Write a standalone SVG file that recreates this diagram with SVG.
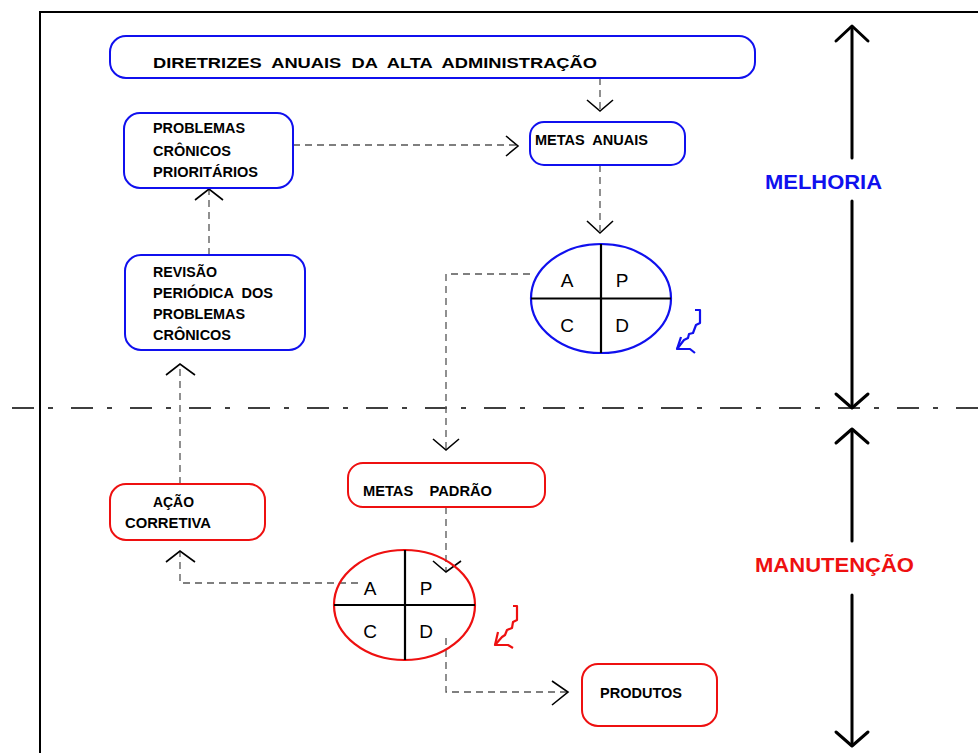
<svg xmlns="http://www.w3.org/2000/svg" width="978" height="753" viewBox="0 0 978 753">
  <style>
    .bg { fill: #ffffff; }
    .frame { fill: none; stroke: #000; stroke-width: 2; }
    .divider { fill: none; stroke: #000; stroke-width: 1.3; stroke-dasharray: 22 14 5 18; }
    .boxB { fill: #fff; stroke: #1010ee; stroke-width: 2; }
    .boxR { fill: #fff; stroke: #ee1010; stroke-width: 2; }
    .lbl { font-family: "Liberation Sans", Arial, sans-serif; font-weight: bold; font-size: 14px; fill: #000; white-space: pre; }
    .big { font-family: "Liberation Sans", Arial, sans-serif; font-weight: bold; font-size: 20px; }
    .q { font-family: "Liberation Sans", Arial, sans-serif; font-size: 19px; fill: #000; text-anchor: middle; }
    .cross { stroke: #000; stroke-width: 2.2; fill: none; }
    .dash { fill: none; stroke: #555; stroke-width: 1.3; stroke-dasharray: 7 5; }
    .head { fill: none; stroke: #000; stroke-width: 1.6; }
    .axis { fill: none; stroke: #000; stroke-width: 3; stroke-linecap: round; stroke-linejoin: round; }
    .curlB { fill: none; stroke: #1010ee; stroke-width: 2.2; stroke-linejoin: round; }
    .curlR { fill: none; stroke: #ee1010; stroke-width: 2.2; stroke-linejoin: round; }
  </style>

  <rect class="bg" x="0" y="0" width="978" height="753"/>

  <!-- page frame -->
  <path class="frame" d="M40 753 V12 H978"/>

  <!-- boundary between improvement and maintenance -->
  <line class="divider" x1="12" y1="408" x2="978" y2="408"/>

  <!-- side axes -->
  <g id="axis-melhoria">
    <path class="axis" d="M852 27 V158 M852 201 V407"/>
    <path class="axis" d="M836 41 L852 26 L868 41"/>
    <path class="axis" d="M836 394 L852 408 L868 394"/>
    <text class="big" x="765" y="189" fill="#1010ee" textLength="117" lengthAdjust="spacingAndGlyphs">MELHORIA</text>
  </g>
  <g id="axis-manutencao">
    <path class="axis" d="M852 430 V541 M852 595 V745"/>
    <path class="axis" d="M836 443 L852 429 L868 443"/>
    <path class="axis" d="M836 732 L852 746 L868 732"/>
    <text class="big" x="755" y="572" fill="#ee1010" textLength="159" lengthAdjust="spacingAndGlyphs">MANUTENÇÃO</text>
  </g>

  <!-- connectors -->
  <g id="connectors">
    <path class="dash" d="M600 78 V110"/>
    <path class="head" d="M587 100 L600 111 L613 100"/>

    <path class="dash" d="M293 145 H517"/>
    <path class="head" d="M506 136 L518 146 L506 156"/>

    <path class="dash" d="M600 165 V231"/>
    <path class="head" d="M587 221 L600 233 L613 221"/>

    <path class="dash" d="M209 255 V190"/>
    <path class="head" d="M195 200 L209 189 L223 200"/>

    <path class="dash" d="M530 274 H446 V449"/>
    <path class="head" d="M433 439 L446 450 L459 439"/>

    <path class="dash" d="M446 507 V571"/>
    <path class="head" d="M433 561 L446 572 L461 561"/>

    <path class="dash" d="M180 484 V365"/>
    <path class="head" d="M166 375 L180 364 L195 375"/>

    <path class="dash" d="M358 583 H180 V552"/>
    <path class="head" d="M166 562 L180 551 L195 562"/>

    <path class="dash" d="M446 638 V692 H567"/>
    <path class="head" d="M552 681 L568 692 L552 705"/>
  </g>

  <!-- improvement nodes -->
  <g id="diretrizes">
    <rect class="boxB" x="110" y="36" width="645" height="42" rx="16"/>
    <text class="lbl" x="153" y="68" font-size="16" textLength="444" lengthAdjust="spacingAndGlyphs">DIRETRIZES  ANUAIS  DA  ALTA  ADMINISTRAÇÃO</text>
  </g>

  <g id="problemas-cronicos">
    <rect class="boxB" x="124" y="113" width="169" height="75" rx="16"/>
    <text class="lbl" x="153" y="133" textLength="92" lengthAdjust="spacingAndGlyphs">PROBLEMAS</text>
    <text class="lbl" x="153" y="156" textLength="78" lengthAdjust="spacingAndGlyphs">CRÔNICOS</text>
    <text class="lbl" x="153" y="177" textLength="105" lengthAdjust="spacingAndGlyphs">PRIORITÁRIOS</text>
  </g>

  <g id="metas-anuais">
    <rect class="boxB" x="530" y="122" width="155" height="43" rx="14"/>
    <text class="lbl" x="535" y="145" textLength="113" lengthAdjust="spacingAndGlyphs">METAS  ANUAIS</text>
  </g>

  <g id="revisao">
    <rect class="boxB" x="125" y="255" width="180" height="95" rx="16"/>
    <text class="lbl" x="153" y="277" textLength="64" lengthAdjust="spacingAndGlyphs">REVISÃO</text>
    <text class="lbl" x="153" y="298" textLength="120" lengthAdjust="spacingAndGlyphs">PERIÓDICA  DOS</text>
    <text class="lbl" x="153" y="319" textLength="92" lengthAdjust="spacingAndGlyphs">PROBLEMAS</text>
    <text class="lbl" x="153" y="340" textLength="78" lengthAdjust="spacingAndGlyphs">CRÔNICOS</text>
  </g>

  <g id="pdca-melhoria">
    <ellipse cx="601" cy="298.5" rx="70" ry="54.5" fill="#fff" stroke="#1010ee" stroke-width="2.2"/>
    <path class="cross" d="M601 244 V353 M531 298.5 H671"/>
    <text class="q" x="567" y="287">A</text>
    <text class="q" x="622" y="287">P</text>
    <text class="q" x="567" y="332">C</text>
    <text class="q" x="622" y="332">D</text>
    <path class="curlB" d="M695 310 H700 V323 L696 325 L693 333 L689 334 L688 338 L684 340 L677 349"/>
    <path class="curlB" d="M681 337 L677 349 L690 349 L695 353"/>
  </g>

  <!-- maintenance nodes -->
  <g id="metas-padrao">
    <rect class="boxR" x="348" y="463" width="197" height="44" rx="15"/>
    <text class="lbl" x="363" y="496" textLength="129" lengthAdjust="spacingAndGlyphs">METAS    PADRÃO</text>
  </g>

  <g id="acao-corretiva">
    <rect class="boxR" x="110" y="484" width="155" height="56" rx="16"/>
    <text class="lbl" x="153" y="507" textLength="41" lengthAdjust="spacingAndGlyphs">AÇÃO</text>
    <text class="lbl" x="125" y="528" textLength="86" lengthAdjust="spacingAndGlyphs">CORRETIVA</text>
  </g>

  <g id="pdca-manutencao">
    <ellipse cx="404.5" cy="605" rx="70.5" ry="55" fill="none" stroke="#ee1010" stroke-width="2.2"/>
    <path class="cross" d="M405 550 V660 M334 605 H475"/>
    <text class="q" x="370" y="595">A</text>
    <text class="q" x="426" y="595">P</text>
    <text class="q" x="370" y="638">C</text>
    <text class="q" x="426" y="638">D</text>
    <path class="curlR" d="M513 606 H517 V620 L513 622 L512 628 L507 630 L505 635 L502 637 L495 645"/>
    <path class="curlR" d="M498 632 L495 645 L508 645 L513 648"/>
  </g>

  <g id="produtos">
    <rect class="boxR" x="582" y="664" width="135" height="62" rx="16"/>
    <text class="lbl" x="600" y="698" textLength="82" lengthAdjust="spacingAndGlyphs">PRODUTOS</text>
  </g>
</svg>
